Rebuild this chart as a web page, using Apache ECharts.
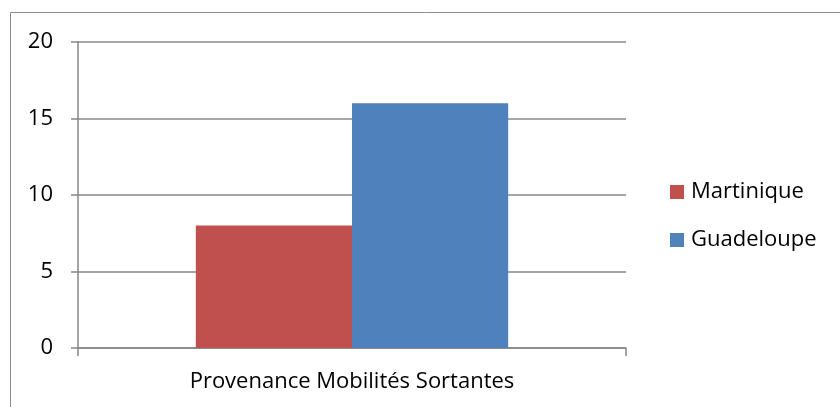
<!DOCTYPE html>
<html>
<head>
<meta charset="utf-8">
<script src="https://cdn.jsdelivr.net/npm/echarts@6/dist/echarts.min.js"></script>
<style>
  html, body { margin: 0; padding: 0; background: #fff; }
  #chart { width: 840px; height: 407px; }
</style>
</head>
<body>
<div id="chart"></div>
<script>
var categories = ['Provenance Mobilités Sortantes'];
var martinique = [8];
var guadeloupe = [16];
var seriesNames = ['Martinique', 'Guadeloupe'];

var chart = echarts.init(document.getElementById('chart'));
var textFont = 'Open Sans';
var gridColor = '#878787';

var option = {
    animation: false,
    graphic: [{
        type: 'rect',
        shape: { x: 10.5, y: 12.5, width: 900, height: 500 },
        style: { fill: 'none', stroke: '#8c8c8c', lineWidth: 1 }
    }],
    grid: { left: 78, right: 214, top: 42, bottom: 59, containLabel: false },
    legend: {
        orient: 'vertical',
        left: 665,
        top: 175,
        itemWidth: 14,
        itemHeight: 14,
        itemGap: 24,
        icon: 'rect',
        textStyle: { fontFamily: textFont, fontSize: 22, lineHeight: 24, color: '#000', padding: [0, 0, 0, 2] },
        data: seriesNames
    },
    xAxis: {
        type: 'category',
        data: categories,
        axisLine: { lineStyle: { color: gridColor, width: 1.5 } },
        axisTick: { show: true, length: 8, lineStyle: { color: gridColor, width: 1.5 } },
        axisLabel: { fontFamily: textFont, fontSize: 22, color: '#000', margin: 23 }
    },
    yAxis: {
        type: 'value',
        min: 0, max: 20, interval: 5,
        axisLine: { show: true, lineStyle: { color: gridColor, width: 1.5 } },
        axisTick: { show: true, length: 7, lineStyle: { color: gridColor, width: 1.5 } },
        splitLine: { lineStyle: { color: gridColor, width: 1.5 } },
        axisLabel: { fontFamily: textFont, fontSize: 22, color: '#000', margin: 25 }
    },
    series: [{
        name: seriesNames[0],
        type: 'bar',
        data: martinique,
        barGap: 0,
        barCategoryGap: '43%',
        itemStyle: { color: '#C0504D' }
    }, {
        name: seriesNames[1],
        type: 'bar',
        data: guadeloupe,
        barGap: 0,
        barCategoryGap: '43%',
        itemStyle: { color: '#4F81BD' }
    }]
};
chart.setOption(option);
</script>
</body>
</html>
